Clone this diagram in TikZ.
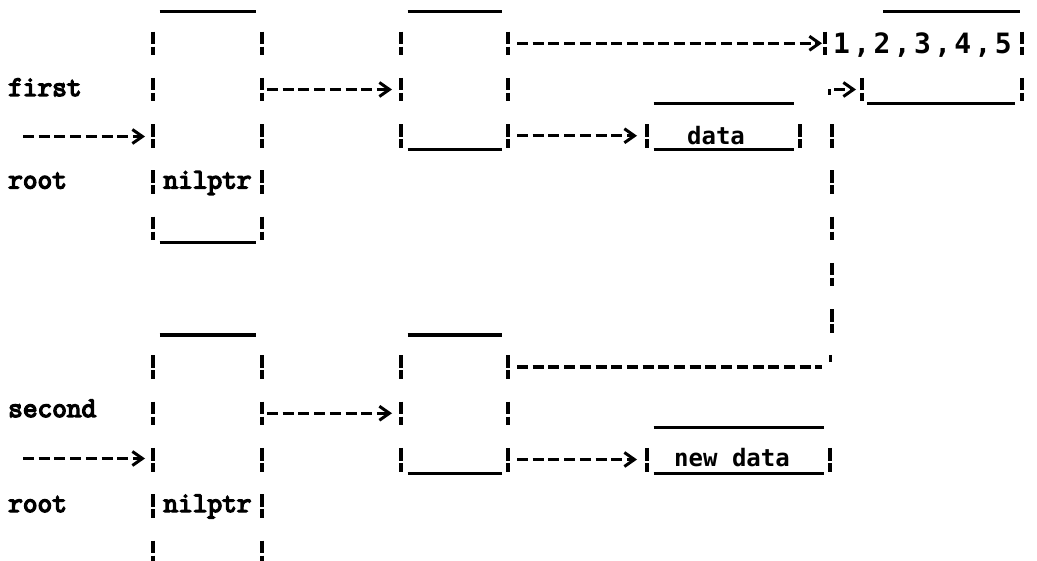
\documentclass[tikz,border=0pt]{standalone}
\usepackage{fontspec}
\usetikzlibrary{arrows.meta,calc}
\newfontfamily\labfont{Latin Modern Mono}[FakeBold=5]
\newfontfamily\datfont{DejaVu Sans Mono}
\newfontfamily\digfont{DejaVu Sans Mono}[LetterSpace=12]

\tikzset{
  rule/.style={line width=3.3pt},
  sidebar/.style={line width=3.2pt, dash pattern=on 12.5pt off 2.5pt on 8.5pt off 22.75pt},
  dline/.style={line width=3.3pt, dash pattern=on 11pt off 4.7pt},
  link/.style={dline, -{Straight Barb[length=10pt,width=14pt,line width=3pt]}},
  tick/.style={line width=3pt},
  lab/.style={font=\labfont\fontsize{28.5}{28.5}\selectfont, inner sep=0pt, anchor=base west},
  dat/.style={font=\datfont\bfseries\fontsize{24}{24}\selectfont, inner sep=0pt, anchor=base},
  dig/.style={font=\digfont\bfseries\fontsize{28}{28}\selectfont, inner sep=0pt, anchor=base west},
}

% A record drawn in typewriter style: broken bars on both sides over a range
% of text rows, a rule above the first row and one under the last row.
\newcommand\cellframe[5]{%
  \pgfmathsetmacro\cfTop{-3+46.25*#4}%
  \pgfmathsetmacro\cfBot{-3+46.25*#5}%
  \coordinate (#1-tl) at (#2,\cfTop);
  \coordinate (#1-tr) at (#3,\cfTop);
  \coordinate (#1-bl) at (#2,\cfBot);
  \coordinate (#1-br) at (#3,\cfBot);
  \draw[sidebar] ($(#1-tl)+(0,-11.5)$) -- ($(#1-bl)+(0,12)$);
  \draw[sidebar] ($(#1-tr)+(0,-11.5)$) -- ($(#1-br)+(0,12)$);
  \draw[rule] ($(#1-tl)+(6.5,-32)$) -- ($(#1-tr)+(-6.5,-32)$);
  \draw[rule] ($(#1-bl)+(6.5,14)$) -- ($(#1-br)+(-6.5,14)$);
}

\begin{document}
\begin{tikzpicture}[x=1pt,y=-1pt]
\useasboundingbox (0,0) rectangle (1037,561);

% text rows
\foreach \i in {0,...,12} \coordinate (row\i) at (0,{-3+46.25*\i});

% records
\cellframe{A1}{153}{262}{1}{5}
\cellframe{B1}{401}{508}{1}{3}
\cellframe{D}{647}{800}{3}{3}
\cellframe{A2}{153}{262}{8}{12}
\cellframe{B2}{401}{508}{8}{10}
\cellframe{N}{647}{830}{10}{10}

% the shared list record
\coordinate (C-l1) at (825,43.25);
\coordinate (C-l2) at (862,89.5);
\coordinate (C-r1) at (1022,43.25);
\coordinate (C-r2) at (1022,89.5);
\draw[sidebar] ($(C-l1)+(0,-11.5)$) -- ($(C-l1)+(0,12)$);
\draw[sidebar] ($(C-l2)+(0,-11.5)$) -- ($(C-l2)+(0,12)$);
\draw[sidebar] ($(C-r1)+(0,-11.5)$) -- ($(C-r2)+(0,12)$);
\draw[rule] ($(C-l1)+(58,-32)$) -- ($(C-r1)+(-2,-32)$);
\draw[rule] ($(C-l2)+(5,14)$) -- ($(C-r2)+(-7,14)$);

% labels and contents
\node[lab] (first) at (8,96) {first};
\node[lab] (root1) at (8,188.5) {root};
\node[lab] (second) at (8,417) {second};
\node[lab] (root2) at (8,512) {root};
\node[lab, anchor=base] (nil1) at (207.5,188.5) {nilptr};
\node[lab, anchor=base] (nil2) at (207.5,512) {nilptr};
\node[dat] (data) at (716,145) {data};
\node[dat] (newdata) at (732,467) {new data};
\node[dig] (vals) at (833,54) {1,2,3,4,5};

% pointers of the first structure
\coordinate (inTop) at (23,136.5);
\draw[link, shorten >=8pt] (inTop) -- (A1-tl |- inTop);
\draw[link, shorten <=5pt, shorten >=9pt] (A1-tr |- row2) -- (B1-tl |- row2);
\draw[link, shorten <=9pt, shorten >=3pt] (B1-tr) -- (C-l1);
\draw[link, shorten <=9pt, shorten >=10pt] (B1-br) -- (D-tl);

% pointers of the second structure
\coordinate (inBot) at (23,458.5);
\draw[link, shorten >=8pt] (inBot) -- (A2-tl |- inBot);
\draw[link, shorten <=5pt, shorten >=9pt] (A2-tr |- row9) -- (B2-tl |- row9);
\draw[link, shorten <=9pt, shorten >=10pt] (B2-br) -- (N-tl);

% the second structure points back into the shared list
\coordinate (retTurn) at (832,367);
\coordinate (retTop) at (retTurn |- row2);
\draw[dline, shorten <=9pt, shorten >=10pt] (B2-tr) -- (retTurn);
\draw[tick] ($(retTurn)+(-2,-12)$) -- ($(retTurn)+(-2,-5)$);
\draw[sidebar] ($(retTurn |- D-tl)+(0,-11.5)$) -- ($(retTurn |- row7)+(0,12)$);
\draw[tick] ($(retTop)+(-3,0)$) -- ($(retTop)+(-3,6)$);
\draw[link, shorten >=6pt] ($(retTop)+(2,0)$) -- (C-l2);
\end{tikzpicture}
\end{document}
